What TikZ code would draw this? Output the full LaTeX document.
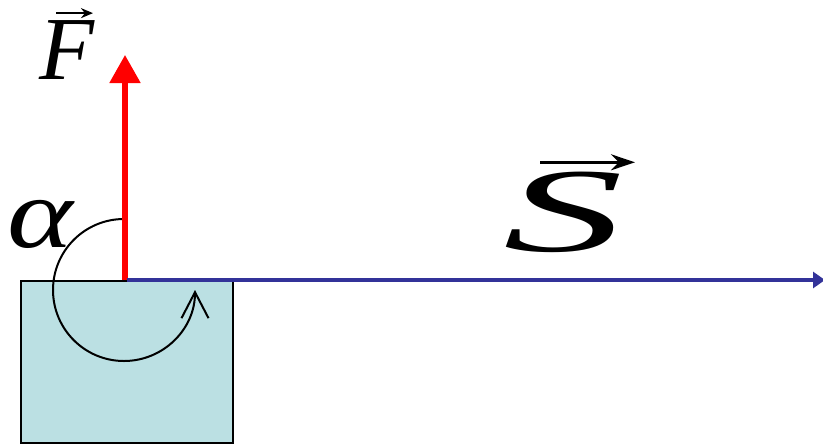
\documentclass[tikz,border=0pt]{standalone}
\usepackage{fontspec}
\setmainfont{Liberation Serif}
\usetikzlibrary{positioning,arrows.meta}
\definecolor{blockblue}{HTML}{BBE0E3}
\definecolor{displblue}{HTML}{333399}

\begin{document}
\begin{tikzpicture}[
    x=0.5pt, y=-0.5pt,
    force/.style={draw=red, line width=2.6pt, -{Triangle[width=15pt,length=14pt]}},
    displ/.style={draw=displblue, line width=2.4pt, -{Triangle[width=8pt,length=6pt]}},
    turn/.style={draw, line width=1pt, -{Straight Barb[length=13pt,width=13.5pt,line width=1pt]}},
    vecarrow/.style={draw, line width=1pt, -{Stealth[length=6pt,width=5pt]}},
    label/.style={inner sep=0pt, font=\fontsize{45}{54}\selectfont\itshape}
]
\useasboundingbox (0,0) rectangle (823,445);
\node (block) [draw, fill=blockblue, line width=0.75pt, minimum width=106pt, minimum height=81pt, inner sep=0pt] at (127,362) {};
\coordinate (O) at (125,280);
\coordinate (Ftip) at (125,55);
\coordinate (Send) at (825,280);
\coordinate (turnstart) at (124,219);
\draw[turn] (turnstart) arc[start angle=90, end angle=360, radius=35.5pt];
\draw[force] (O) -- (Ftip);
\draw[displ] ([xshift=1pt]O) -- (Send);
\node (Flabel) [label] at (67,50) {F};
\node (Slabel) [label, font=\fontsize{60}{72}\selectfont\itshape] at (563,212) {\scalebox{2}[1]{S}};
\node (alpha) [label, font=\fontsize{50}{60}\selectfont\itshape] at (40,224) {\scalebox{1.25}[1]{α}};
\draw[vecarrow] ([shift={(-5.5pt,3.5pt)}]Flabel.north) -- ++(18.5pt,0);
\draw[vecarrow, line width=1.4pt, -{Stealth[length=12pt,width=8pt]}] ([shift={(-11.5pt,4.5pt)}]Slabel.north) -- ++(47.5pt,0);
\end{tikzpicture}
\end{document}
